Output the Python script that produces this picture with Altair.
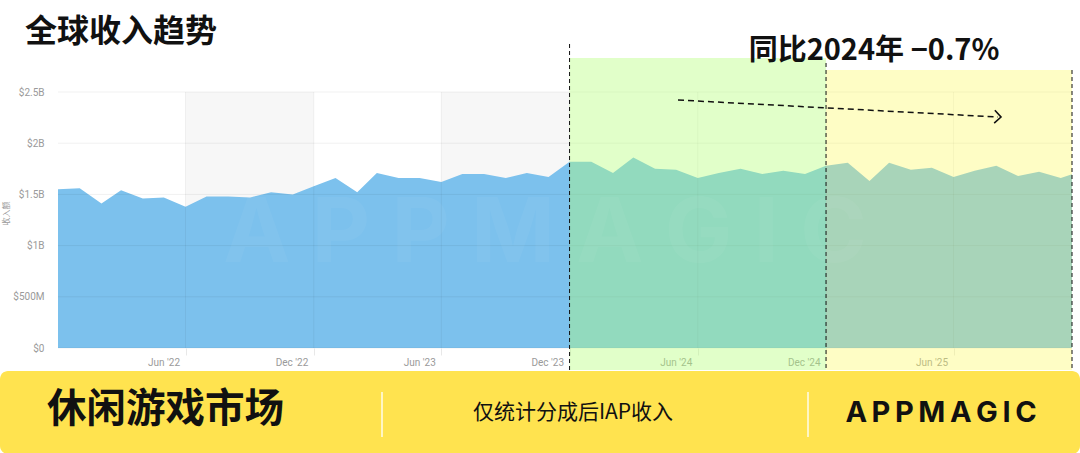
import altair as alt
import pandas as pd

# ---------------- data ----------------
months = pd.date_range("2021-12-01", "2025-12-01", freq="MS").strftime("%Y-%m-%d").tolist()
revenue_b = [1.55, 1.56, 1.41, 1.54, 1.46, 1.47, 1.38, 1.48, 1.48, 1.47, 1.52, 1.50, 1.58,
             1.66, 1.52, 1.71, 1.66, 1.66, 1.62, 1.70, 1.70, 1.66, 1.71, 1.67, 1.82,
             1.82, 1.71, 1.86, 1.75, 1.74, 1.66, 1.71, 1.75, 1.70, 1.73, 1.70, 1.78,
             1.81, 1.63, 1.81, 1.74, 1.76, 1.67, 1.73, 1.78, 1.68, 1.72, 1.66, 1.73]
y_ticks = [0, 0.5, 1, 1.5, 2, 2.5]
x_ticks = ["2022-06-01", "2022-12-01", "2023-06-01", "2023-12-01",
           "2024-06-01", "2024-12-01", "2025-06-01"]
band_start = ["2022-06-01", "2023-06-01"]
band_end = ["2022-12-01", "2023-12-01"]
period_2024 = ["2023-12-01", "2024-12-01"]
period_2025 = ["2024-12-01", "2025-11-17"]
domain_end = "2025-11-17"

df = pd.DataFrame({"month": months, "rev": revenue_b})
one = pd.DataFrame({"k": [0]})

W, H = 1014, 256


def dt(s):
    y, m, d = (int(p) for p in s.split("-"))
    return alt.DateTime(year=y, month=m, date=d, utc=True)


xscale = alt.Scale(type="utc", domain=[dt(months[0]), dt(domain_end)])
yscale = alt.Scale(domain=[0, 2.5], nice=False, zero=True)

xaxis = alt.Axis(values=[dt(v) for v in x_ticks],
                 labelExpr="utcFormat(datum.value, \"%b '%y\")",
                 labelAlign="right", labelOffset=-6, labelPadding=2, labelFlush=False,
                 tickSize=7, tickColor="#e8e8e8", domain=False, grid=False,
                 labelFont="Roboto", labelFontSize=10, labelColor="#9a9a9a", title=None)
yaxis = alt.Axis(values=y_ticks,
                 labelExpr="datum.value == 0 ? '$0' : (datum.value < 1 ? '$' + (datum.value*1000) + 'M' : '$' + datum.value + 'B')",
                 grid=False, domain=False, ticks=False, labelPadding=14,
                 labelFont="Roboto", labelFontSize=10, labelColor="#9a9a9a",
                 title="收入额", titleFont="Noto Sans CJK SC", titleFontSize=8,
                 titleColor="#9a9a9a", titleFontWeight="normal",
                 titleX=-48, titleY=121, titleAngle=270)

# gray alternating bands
bands = alt.Chart(pd.DataFrame({"s": band_start, "e": band_end})).mark_rect(color="#f7f7f7").encode(
    x=alt.X("s:T", scale=xscale, axis=xaxis), x2="e:T",
    y=alt.value(0), y2=alt.value(H))

area = alt.Chart(df).mark_area(color="#7cc1ed", clip=True).encode(
    x=alt.X("month:T", scale=xscale, axis=xaxis),
    y=alt.Y("rev:Q", scale=yscale, axis=yaxis))

hgrid = alt.Chart(pd.DataFrame({"v": y_ticks})).mark_rule(color="#000", opacity=0.06).encode(
    y=alt.Y("v:Q", scale=yscale), x=alt.value(0), x2=alt.value(W))
vgrid = alt.Chart(pd.DataFrame({"d": x_ticks})).mark_rule(color="#000", opacity=0.05).encode(
    x=alt.X("d:T", scale=xscale), y=alt.value(0), y2=alt.value(H))

green = alt.Chart(pd.DataFrame({"s": [period_2024[0]], "e": [period_2024[1]]})).mark_rect(
    color="#b4ff78", opacity=0.4).encode(
    x=alt.X("s:T", scale=xscale), x2="e:T", y=alt.value(-34), y2=alt.value(278))
yellow = alt.Chart(pd.DataFrame({"s": [period_2025[0]], "e": [period_2025[1]]})).mark_rect(
    color="#fcf959", opacity=0.35).encode(
    x=alt.X("s:T", scale=xscale), x2="e:T", y=alt.value(-22), y2=alt.value(278))


def vdash(date, top):
    return alt.Chart(pd.DataFrame({"d": [date]})).mark_rule(
        color="#111", strokeWidth=1, strokeDash=[4, 3]).encode(
        x=alt.X("d:T", scale=xscale), y=alt.value(top), y2=alt.value(278))


dash1 = vdash(period_2024[0], -48)
dash2 = vdash(period_2025[0], -29)
dash3 = vdash(period_2025[1], -22)

arrow_line = alt.Chart(one).mark_rule(color="#111", strokeWidth=1.5, strokeDash=[6, 4]).encode(
    x=alt.value(620), y=alt.value(8), x2=alt.value(940), y2=alt.value(25))
arrow_head = alt.Chart(one).mark_point(shape="M -1 -1 L 0 0 L -1 1", filled=False, size=169,
                                       strokeWidth=1.6, color="#111", angle=3, opacity=1).encode(
    x=alt.value(943), y=alt.value(25))

watermark = alt.Chart(one).mark_text(text="A P P M A G I C", font="Inter", fontSize=90,
                                     fontWeight="bold", color="#ffffff", opacity=0.04,
                                     align="center", baseline="middle").encode(
    x=alt.value(487), y=alt.value(143))

title = alt.Chart(one).mark_text(text="全球收入趋势", font="Noto Sans CJK SC", fontSize=32,
                                 fontWeight="bold", color="#111", align="left",
                                 baseline="middle").encode(x=alt.value(-33), y=alt.value(-60))
yoy = alt.Chart(one).mark_text(text="同比2024年 −0.7%", font="Noto Sans CJK SC", fontSize=29,
                               fontWeight="bold", color="#111", align="center",
                               baseline="middle").encode(x=alt.value(816), y=alt.value(-41))

banner = alt.Chart(one).mark_rect(color="#ffe34f", cornerRadius=8).encode(
    x=alt.value(-58), x2=alt.value(1022), y=alt.value(279), y2=alt.value(362))
sep1 = alt.Chart(one).mark_rule(color="#fff6c4", strokeWidth=2).encode(
    x=alt.value(324), y=alt.value(300), y2=alt.value(345))
sep2 = alt.Chart(one).mark_rule(color="#fff6c4", strokeWidth=2).encode(
    x=alt.value(750), y=alt.value(300), y2=alt.value(345))
b_title = alt.Chart(one).mark_text(text="休闲游戏市场", font="Noto Sans CJK SC", fontSize=39.5,
                                   fontWeight="bold", color="#111", align="left",
                                   baseline="middle").encode(x=alt.value(-11), y=alt.value(318))
b_note = alt.Chart(one).mark_text(text="仅统计分成后IAP收入", font="Noto Sans CJK SC", fontSize=21,
                                  fontWeight="normal", color="#111", align="center",
                                  baseline="middle").encode(x=alt.value(515), y=alt.value(321))
b_logo = alt.Chart(one).mark_text(text="A\u2009P\u2009P\u2009M\u2009A\u2009G\u2009I\u2009C",
                                  font="Inter", fontSize=29, fontWeight="bold", color="#111",
                                  align="center", baseline="middle").encode(
    x=alt.value(883), y=alt.value(321))

chart = alt.layer(
    bands, area, hgrid, vgrid, green, yellow, dash1, dash2, dash3,
    arrow_line, arrow_head, watermark, title, yoy,
    banner, sep1, sep2, b_title, b_note, b_logo
).properties(
    width=W, height=H,
    autosize=alt.AutoSizeParams(type="none"),
    padding={"left": 58, "top": 92, "right": 8, "bottom": 105},
    background="#ffffff",
).configure_view(stroke=None)

chart.save("out.html", embed_options={"renderer": "svg", "actions": False})
